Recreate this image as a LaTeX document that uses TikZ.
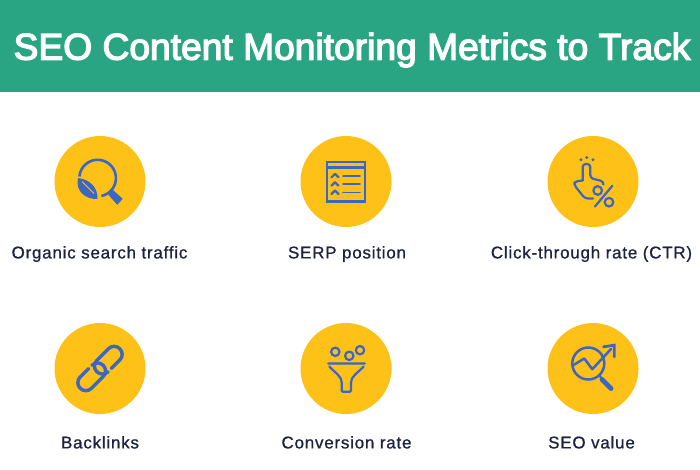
\documentclass[tikz,border=0pt]{standalone}
\usepackage{fontspec}
\setmainfont{Liberation Sans}
\newfontfamily\titlefont[FakeBold=3.5]{Liberation Sans}
\newfontfamily\labelfont[FakeBold=0.9,LetterSpace=4.5]{Liberation Sans}
\usetikzlibrary{positioning}
\definecolor{headgreen}{HTML}{2AA583}
\definecolor{badgeyellow}{HTML}{FDC118}
\definecolor{iconblue}{HTML}{3B66C4}
\definecolor{labelnavy}{HTML}{1E2240}
\tikzstyle{header} = [rectangle, minimum width=700pt, minimum height=92pt, inner sep=0pt, fill=headgreen]
\tikzstyle{headline} = [text=white, font=\titlefont\fontsize{37.2}{40}\selectfont, inner sep=0pt]
\tikzstyle{badge} = [circle, minimum size=91pt, inner sep=0pt, fill=badgeyellow]
\tikzstyle{metric} = [text=labelnavy, font=\labelfont\fontsize{17}{18}\selectfont, inner sep=0pt, text height=12pt, text depth=4pt]
\tikzstyle{iconline} = [draw=iconblue, line width=2.2pt, line cap=round, line join=round]
\tikzstyle{iconfill} = [fill=iconblue]

\begin{document}
\begin{tikzpicture}[x=1pt,y=-1pt,node distance=18pt]
            \useasboundingbox (0,0) rectangle (700,469);
            \node (head) [header, anchor=north west] at (0,0) {};
            \node (title) [headline] at (352,50) {SEO Content Monitoring Metrics to Track};

            \node (organic) [badge] at (100,181.5) {};
            \node (serp) [badge] at (346,181.5) {};
            \node (click) [badge] at (593,181.5) {};
            \node (backlinks) [badge] at (100,368.5) {};
            \node (conversion) [badge] at (346,368.5) {};
            \node (value) [badge] at (593,368.5) {};

            \node (organicText) [metric, below=19pt of organic, xshift=-0.5pt] {Organic search traffic};
            \node (serpText) [metric, below=19pt of serp, xshift=1pt] {SERP position};
            \node (clickText) [metric, below=19pt of click, xshift=-1.5pt] {Click-through rate (CTR)};
            \node (backlinksText) [metric, below=22pt of backlinks] {Backlinks};
            \node (conversionText) [metric, below=22pt of conversion, xshift=0.5pt] {Conversion rate};
            \node (valueText) [metric, below=22pt of value, xshift=-1.5pt] {SEO value};

            % leaf under the lens
            \begin{scope}[shift={(organic)}]
                \draw [iconline, line width=2.6pt, line cap=butt] (-20.6,-5) arc[start angle=175, end angle=-78, radius=18.3pt];
                \fill [iconfill] (12.7,8.3) -- (22.7,17.3) -- (17.3,23.3) -- (8.3,13.3) -- cycle;
                \fill [iconfill] (-22,-3.5) .. controls (-10,-2) and (-2,6) .. (-2.5,17.5) .. controls (-14,18) and (-25,10) .. cycle;
                \draw [badgeyellow, line width=0.9pt] (-18,0) -- (-6,12);
            \end{scope}

            % list
            \begin{scope}[shift={(serp)}]
                \draw [iconline, line cap=butt, line join=miter] (-18.7,-19.3) rectangle (19.3,20);
                \draw [iconline, line cap=butt] (-18.7,-14) -- (19.3,-14);
                \foreach \y in {-5.7,2.7,11} {
                    \draw [iconline] (-14.5,\y+1.5) -- (-11,\y-2) -- (-7.5,\y+1.5);
                    \draw [iconline, line width=1.8pt] (-3,\y) -- (14,\y);
                }
            \end{scope}

            % finger and percent sign
            \begin{scope}[shift={(click)}]
                \fill [iconfill] (-12,-21.7) circle (1.6pt) (-6.3,-24) circle (1.6pt) (0,-21.7) circle (1.6pt);
                \draw [iconline, rounded corners=3pt] (-10.3,-1) -- (-10.3,-17.5) -- (-2.7,-17.5) -- (-2.7,-3.5) -- (10.5,0) -- (10.5,3);
                \draw [iconline, rounded corners=3pt] (-10.3,-1) -- (-18.5,0) -- (-18.5,4) -- (-8,17) -- (0,17);
                \draw [iconline] (4.7,9) circle (4.3pt);
                \draw [iconline] (16,20.7) circle (4.3pt);
                \draw [iconline] (19.3,4.3) -- (2,25);
            \end{scope}

            % chain
            \begin{scope}[shift={(backlinks)}]
                \foreach \a in {45,225} {
                    \draw [iconline, line width=3.4pt, rounded corners=7.9pt, rotate=\a] (8,8) -- (28,8) -- (28,-8) -- (-4.5,-8) -- (-4.5,8) -- (3,8);
                }
            \end{scope}

            % funnel
            \begin{scope}[shift={(conversion)}]
                \draw [iconline] (-10.7,-16.7) circle (4.2pt);
                \draw [iconline] (3.3,-12.7) circle (4.2pt);
                \draw [iconline] (14,-18.3) circle (4.2pt);
                \draw [iconline] (-17.7,-5) -- (18.7,-5) (-16.7,-2) .. controls (-10,5) and (-4.3,8) .. (-4.3,14) -- (-4.3,22) -- (-3,23.3) -- (3.7,23.3) -- (5,22) -- (5,14) .. controls (5,8) and (11,5) .. (17.7,-2);
            \end{scope}

            % lens with trend
            \begin{scope}[shift={(value)}]
                \draw [iconline, line width=2.5pt] (-4.7,-5) circle (16pt);
                \draw [iconline, line width=2.5pt] (-19.5,-3.5) -- (-8.7,-10) -- (-0.7,0.7) -- (18,-19.5);
                \draw [iconline, line width=2.8pt, line join=miter] (10.5,-21.7) -- (21.3,-23.3) -- (21.3,-11.7);
                \draw [iconline] (6.5,6.5) -- (9,11);
                \draw [iconline, line width=4.8pt] (9,11) -- (18,20);
            \end{scope}
        \end{tikzpicture}
\end{document}
